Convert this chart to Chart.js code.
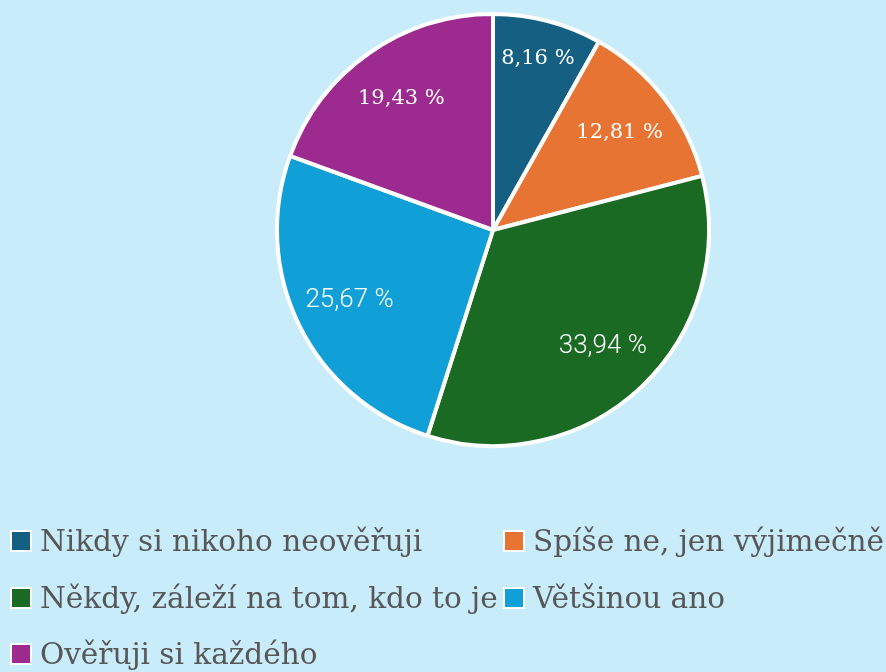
<!DOCTYPE html>
<html>
<head>
<meta charset="utf-8">
<script src="https://cdn.jsdelivr.net/npm/chart.js@4"></script>
<style>
  html, body { margin: 0; padding: 0; background: #c9ecfa; }
  #wrap { position: relative; width: 886px; height: 672px; overflow: hidden; }
  #c { position: absolute; left: 0; top: 0; }
  #legend { position: absolute; left: 10px; top: 513px; width: 876px;
    display: grid; grid-template-columns: 493px auto; row-gap: 0; }
  .item { display: flex; align-items: center; height: 56.5px; white-space: nowrap;
    font-family: "DejaVu Serif", serif; font-size: 29.5px; color: #575757; }
  .box { width: 18px; height: 18px; border: 2px solid #fff; margin-right: 8px; flex: none; }
</style>
</head>
<body>
<div id="wrap">
  <canvas id="c" width="886" height="672"></canvas>
  <div id="legend"></div>
</div>
<script>
const categories = [
  "Nikdy si nikoho neověřuji",
  "Spíše ne, jen výjimečně",
  "Někdy, záleží na tom, kdo to je",
  "Většinou ano",
  "Ověřuji si každého"
];
const values = [8.16, 12.81, 33.94, 25.67, 19.43];
const valueLabels = ["8,16 %", "12,81 %", "33,94 %", "25,67 %", "19,43 %"];
const colors = ["#155f82", "#e87433", "#1b6a24", "#109fd6", "#9d2a8f"];
const labelFonts = ["DejaVu Serif", "DejaVu Serif", "Roboto", "Roboto", "DejaVu Serif"];

const sliceLabels = {
  id: 'sliceLabels',
  afterDatasetsDraw(chart) {
    const ctx = chart.ctx;
    const meta = chart.getDatasetMeta(0);
    ctx.save();
    ctx.fillStyle = '#ffffff';
    ctx.textAlign = 'center';
    ctx.textBaseline = 'middle';
    meta.data.forEach((arc, i) => {
      const p = arc.getProps(['x', 'y', 'startAngle', 'endAngle', 'outerRadius'], true);
      const mid = (p.startAngle + p.endAngle) / 2;
      const span = p.endAngle - p.startAngle;
      const r = p.outerRadius * (span < 0.6 ? 0.82 : 0.74);
      const serif = labelFonts[i].indexOf('Serif') >= 0;
      ctx.font = (serif ? '21px ' : '300 26px ') + '"' + labelFonts[i] + '"';
      ctx.fillText(valueLabels[i], p.x + Math.cos(mid) * r, p.y + Math.sin(mid) * r);
    });
    ctx.restore();
  }
};

new Chart(document.getElementById('c'), {
  type: 'pie',
  data: {
    labels: categories,
    datasets: [{
      data: values,
      backgroundColor: colors,
      borderColor: '#ffffff',
      borderWidth: 4,
      hoverOffset: 0
    }]
  },
  options: {
    responsive: false,
    animation: false,
    layout: { padding: { left: 275, right: 175, top: 12, bottom: 224 } },
    plugins: {
      legend: { display: false },
      tooltip: { enabled: false }
    }
  },
  plugins: [sliceLabels]
});

const legend = document.getElementById('legend');
categories.forEach((name, i) => {
  const item = document.createElement('div');
  item.className = 'item';
  const box = document.createElement('span');
  box.className = 'box';
  box.style.background = colors[i];
  const txt = document.createElement('span');
  txt.textContent = name;
  item.appendChild(box);
  item.appendChild(txt);
  legend.appendChild(item);
});
</script>
</body>
</html>
